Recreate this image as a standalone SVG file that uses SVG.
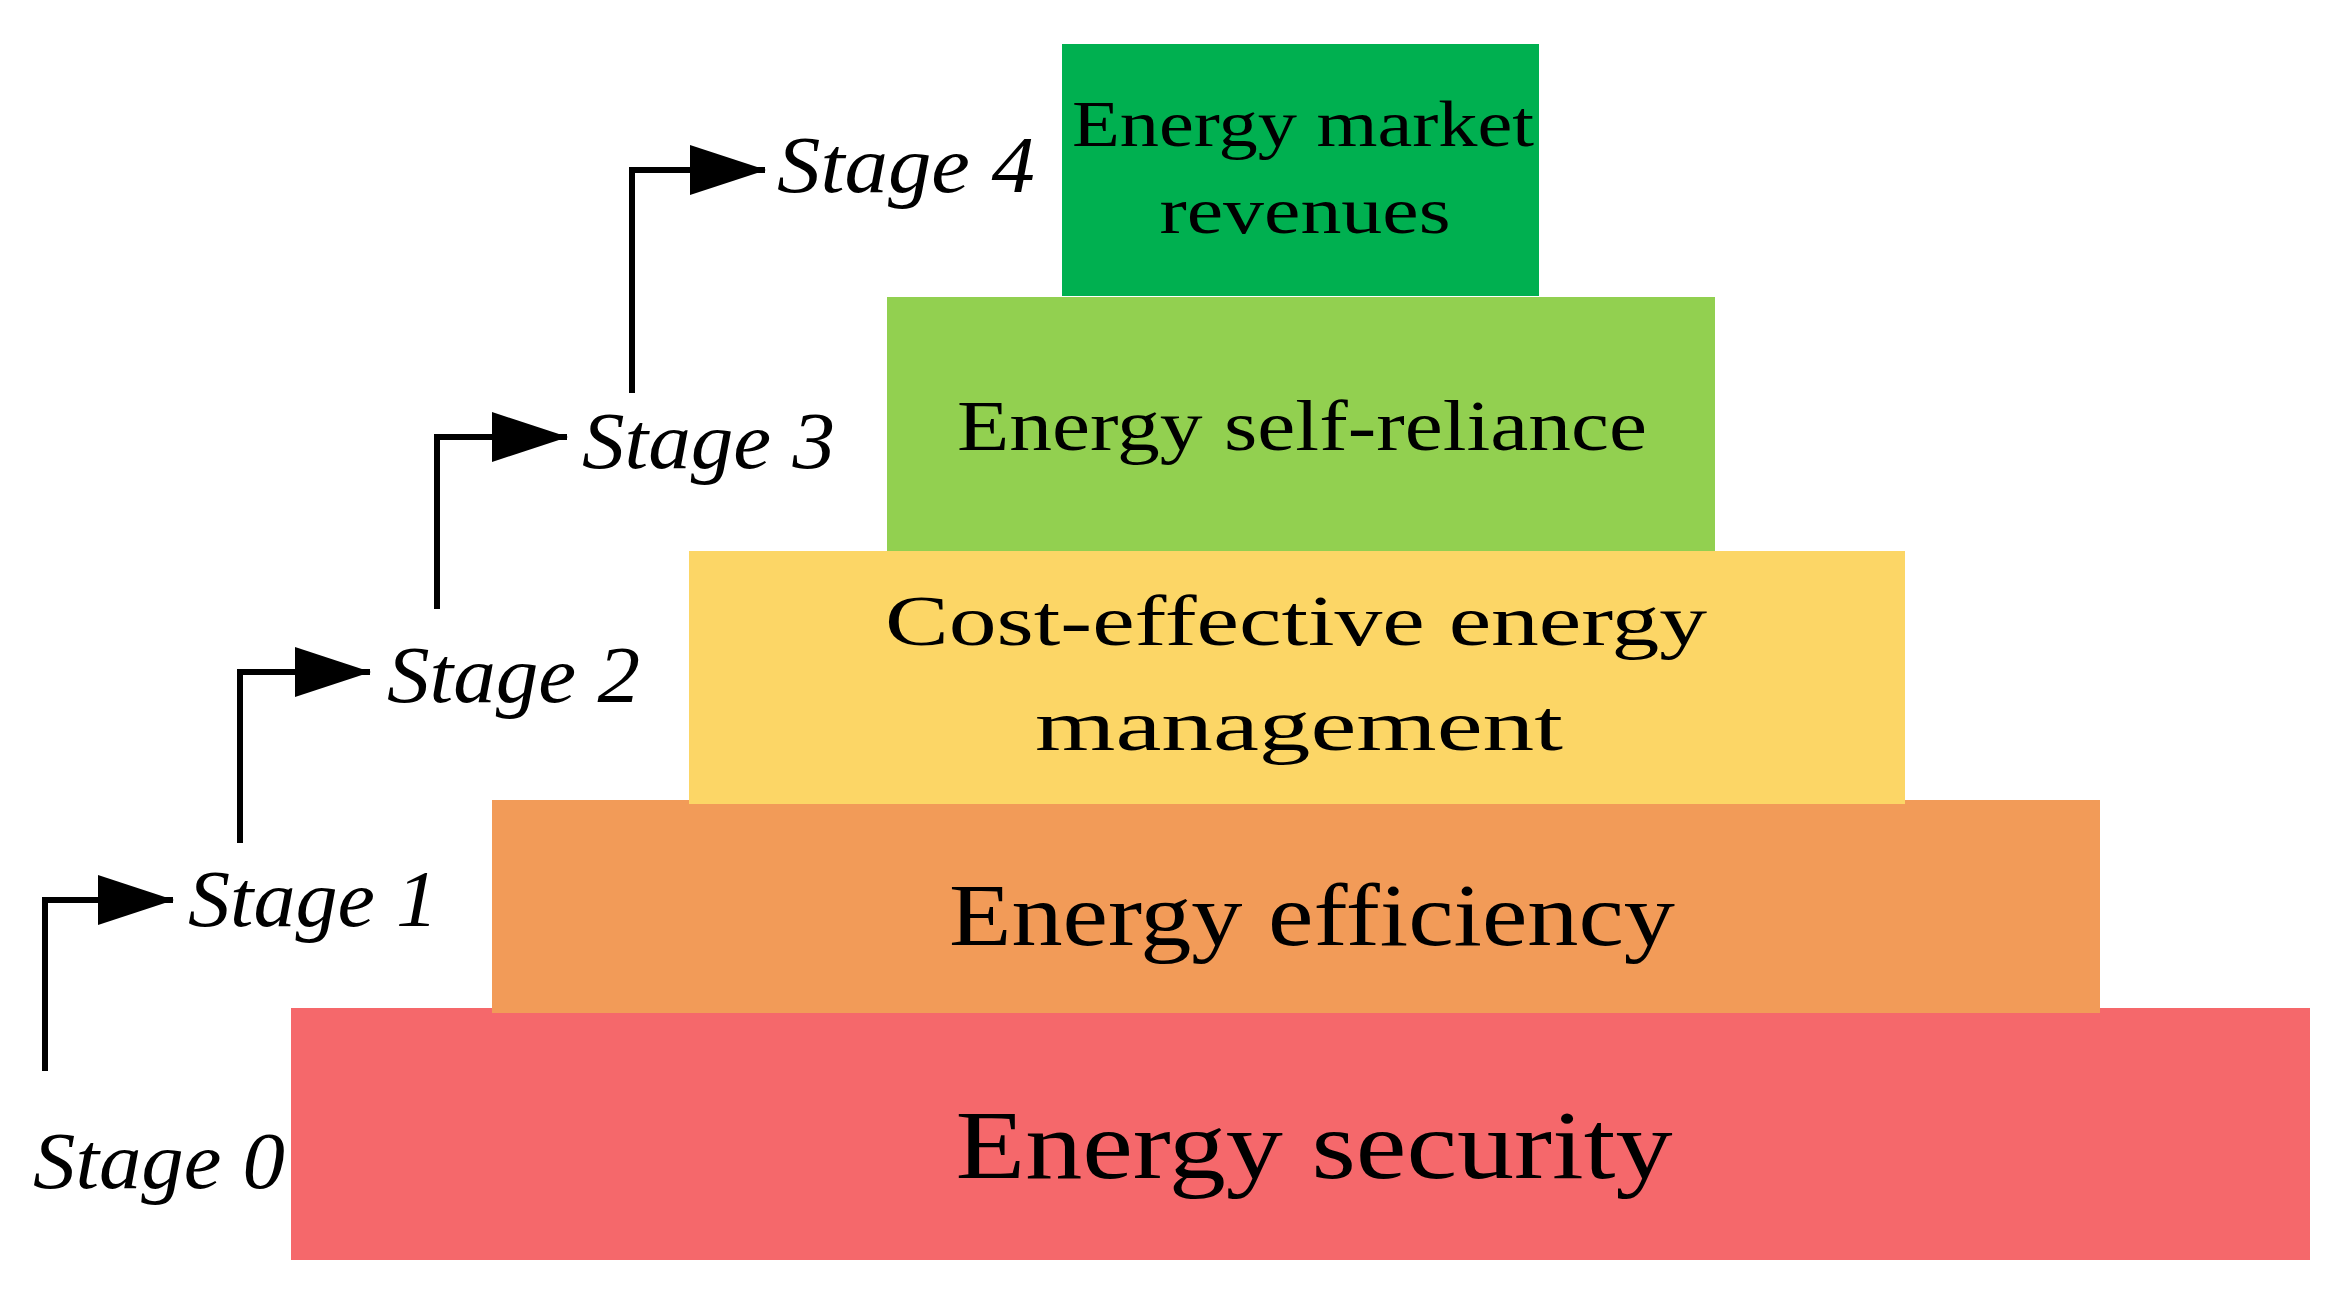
<svg xmlns="http://www.w3.org/2000/svg" width="2341" height="1304" viewBox="0 0 2341 1304">
<style>
.t{font-family:"Liberation Serif",serif;fill:#000;text-anchor:middle}
.s{font-family:"Liberation Serif",serif;font-style:italic;fill:#000}
.c{fill:none;stroke:#000;stroke-width:6}
</style>
<defs><marker id="ah" markerUnits="userSpaceOnUse" markerWidth="76" markerHeight="50" refX="75" refY="25" orient="auto"><path d="M0,0 L76,25 L0,50 Z" fill="#000"/></marker></defs>
<rect width="2341" height="1304" fill="#fff"/>
<g id="n-security"><rect x="291" y="1008" width="2019" height="252" fill="#f5686b"/><text class="t" x="1314" y="1178" font-size="98" textLength="717" lengthAdjust="spacingAndGlyphs">Energy security</text></g>
<g id="n-efficiency"><rect x="492" y="800" width="1608" height="213" fill="#f29b58"/><text class="t" x="1312" y="945" font-size="88" textLength="726" lengthAdjust="spacingAndGlyphs">Energy efficiency</text></g>
<g id="n-cost"><rect x="689" y="551" width="1216" height="253" fill="#fcd666"/><text class="t" x="1296" y="645" font-size="72" textLength="822" lengthAdjust="spacingAndGlyphs">Cost-effective energy</text><text class="t" x="1299" y="750" font-size="72" textLength="528" lengthAdjust="spacingAndGlyphs">management</text></g>
<g id="n-self"><rect x="887" y="297" width="828" height="254" fill="#92d050"/><text class="t" x="1302" y="450" font-size="72" textLength="690" lengthAdjust="spacingAndGlyphs">Energy self-reliance</text></g>
<g id="n-market"><rect x="1062" y="44" width="477" height="252" fill="#00b050"/><text class="t" x="1303" y="146" font-size="66" textLength="462" lengthAdjust="spacingAndGlyphs">Energy market</text><text class="t" x="1305" y="233" font-size="66" textLength="291" lengthAdjust="spacingAndGlyphs">revenues</text></g>
<g id="n-stages">
<text class="s" x="33" y="1188" font-size="80" textLength="252" lengthAdjust="spacingAndGlyphs">Stage 0</text>
<text class="s" x="188" y="926" font-size="80" textLength="250" lengthAdjust="spacingAndGlyphs">Stage 1</text>
<text class="s" x="387" y="702" font-size="80" textLength="253" lengthAdjust="spacingAndGlyphs">Stage 2</text>
<text class="s" x="582" y="468" font-size="80" textLength="253" lengthAdjust="spacingAndGlyphs">Stage 3</text>
<text class="s" x="777" y="192" font-size="80" textLength="258" lengthAdjust="spacingAndGlyphs">Stage 4</text>
</g>
<g id="connectors">
<path class="c" d="M45,1071 V900 H173" marker-end="url(#ah)"/>
<path class="c" d="M240,843 V672 H370" marker-end="url(#ah)"/>
<path class="c" d="M437,609 V437 H567" marker-end="url(#ah)"/>
<path class="c" d="M632,393 V170 H765" marker-end="url(#ah)"/>
</g>
</svg>
